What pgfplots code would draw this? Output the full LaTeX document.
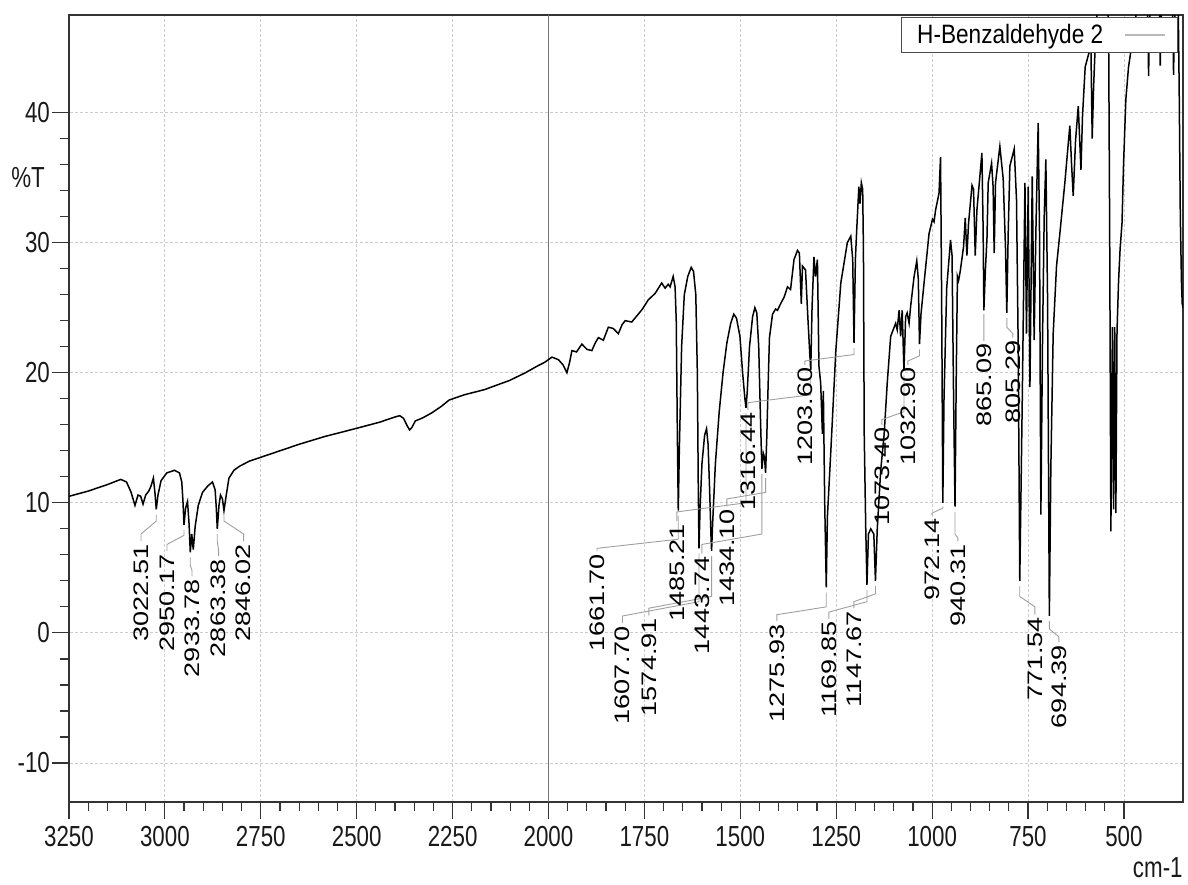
\documentclass[border=0pt]{standalone}
\usepackage{fontspec}
\setmainfont{Liberation Sans}
\newfontfamily\hfont{Liberation Sans}[FakeStretch=0.77]
\newfontfamily\lfont{Liberation Sans}[FakeStretch=0.85]
\newfontfamily\vfont{Liberation Sans}[FakeStretch=1.29]
\usepackage{pgfplots}
\pgfplotsset{compat=1.18}

\tikzset{
  plab/.style={rotate=90, anchor=east, inner sep=0pt, font=\vfont\fontsize{10.5}{12}\selectfont},
}
\pgfplotsset{leader/.style={forget plot, gray!75, line width=0.45pt}}

\begin{document}
\begin{tikzpicture}
\useasboundingbox (-34.5pt,-41pt) rectangle (559.5pt,401pt);
\begin{axis}[
    at={(0,0)}, anchor=south west,
    width=557pt, height=393.5pt, scale only axis,
    x dir=reverse,
    xmin=346, xmax=3250,
    ymin=-13, ymax=47.5,
    xtick={500,750,...,3250},
    ytick={-10,0,...,40},
    minor x tick num=4,
    minor y tick num=4,
    tick align=outside,
    xtick pos=bottom, ytick pos=left,
    major tick length=8.5pt, minor tick length=4.3pt,
    grid=major,
    major grid style={draw=gray!40, line width=0.4pt, dash pattern=on 1.5pt off 1pt},
    extra x ticks={2000}, extra x tick labels={},
    extra x tick style={major grid style={draw=black!55, solid, line width=0.6pt}},
    axis line style={black!80, line width=0.7pt},
    every tick/.style={black!80, line width=0.6pt},
    tick label style={font=\hfont\fontsize{14.5}{16}\selectfont, black!90},
    yticklabel style={xshift=2.5pt},
    /pgf/number format/assume math mode=true,
    /pgf/number format/1000 sep={},
    legend plot pos=right,
    legend cell align=left,
    legend style={at={(0.9955,0.997)}, anchor=north east, draw=black!70,
        line width=0.5pt, fill=white, inner xsep=6pt, inner ysep=1pt,
        font=\lfont\fontsize{13.3}{14}\selectfont},
]

% spectrum
\addplot[black, line width=0.75pt,
    legend image code/.code={\path (0cm,0cm); \draw[gray!55, line width=0.6pt] (0.3cm,0cm) -- (1.0cm,0cm);}]
coordinates {
(3250,10.5) (3200,10.9) (3150,11.4) (3115,11.8) (3100,11.6) (3088,10.8) (3078,9.8) (3070,10.6)
(3063,10.5) (3057,9.9) (3050,10.6) (3042,10.9) (3036,11.3) (3030,11.9) (3026,10.8) (3022.5,9.5)
(3018,10.6) (3010,11.7) (2995,12.3) (2975,12.5) (2962,12.3) (2956,11.6) (2953,10.2) (2950.2,8.3)
(2946,9.6) (2941,10.1) (2937,8.4) (2933.8,6.2) (2930,7.6) (2926,6.4) (2921,8.2) (2913,9.8)
(2902,10.8) (2888,11.3) (2876,11.6) (2869,11.0) (2866,9.6) (2863.4,8.0) (2859,9.8) (2855,10.6)
(2850,10.3) (2846,9.4) (2840,10.6) (2833,11.9) (2820,12.5) (2806,12.8) (2780,13.2) (2750,13.5)
(2700,14.0) (2650,14.5) (2583,15.1) (2530,15.5) (2491,15.8) (2440,16.2) (2400,16.6) (2388,16.7)
(2378,16.5) (2368,15.9) (2362,15.6) (2356,15.8) (2347,16.3) (2330,16.5) (2305,16.9) (2280,17.4)
(2259,17.9) (2220,18.3) (2167,18.7) (2130,19.1) (2102,19.4) (2060,20.0) (2030,20.5) (2010,20.8)
(1991,21.2) (1974,21.0) (1962,20.6) (1952,20.0) (1945,20.8) (1939,21.7) (1927,21.6) (1913,22.2)
(1900,21.8) (1887,21.7) (1878,22.3) (1870,22.7) (1857,22.5) (1844,23.5) (1831,23.4) (1818,23.0)
(1808,23.7) (1800,24.0) (1783,23.9) (1766,24.5) (1755,24.9) (1740,25.6) (1722,26.1) (1705,26.9)
(1696,26.5) (1688,26.8) (1683,26.6) (1675,27.4) (1670,26.6) (1667,24.0) (1664,15.0) (1661.7,9.4)
(1659,14.0) (1653,22.0) (1646,26.0) (1637,27.4) (1628,28.1) (1622,27.8) (1616,26.0) (1612,20.0)
(1609.5,11.0) (1607.7,6.5) (1605,9.5) (1600,13.0) (1593,15.2) (1588,15.7) (1584,14.5) (1580,11.0)
(1576.5,7.5) (1574.9,6.3) (1572,8.5) (1565,13.0) (1555,17.0) (1545,20.0) (1535,22.3) (1525,23.8)
(1517,24.5) (1510,24.2) (1501,22.8) (1494,20.0) (1488,18.0) (1485.2,17.3) (1482,18.5) (1476,22.0)
(1468,24.3) (1462,25.0) (1457,24.6) (1452,22.0) (1447,16.0) (1443.7,12.6) (1440,13.8) (1437,13.5)
(1434.1,12.3) (1431,15.0) (1428,18.5) (1424,22.7) (1416,24.5) (1408,24.9) (1403,24.8) (1395,25.3)
(1386,25.8) (1377,26.6) (1369,26.4) (1360,28.7) (1351,29.4) (1346,29.2) (1341,25.3) (1338,28.2)
(1330,27.9) (1324,24.3) (1319,21.5) (1316.4,20.2) (1313,25.0) (1308,28.9) (1304,27.4) (1299,28.7)
(1295,20.5) (1290.5,19.2) (1286,15.3) (1283.5,18.6) (1280,10.0) (1275.9,3.5) (1273,8.9) (1264,14.0)
(1251,21.7) (1238,26.9) (1221,30.0) (1212,30.5) (1207,28.7) (1203.6,22.3) (1200,28.7) (1197,30.7)
(1191,34.3) (1188,33.0) (1184.5,34.6) (1181,34.1) (1179,29.4) (1177,15.3) (1173,8.0) (1169.85,3.7)
(1166,7.6) (1160,8.0) (1152,7.6) (1147.7,4.0) (1143,8.0) (1134,12.5) (1125,15.3) (1117,19.2)
(1108,22.8) (1095,23.8) (1091,23.3) (1086,24.8) (1082,22.8) (1078,24.8) (1073.4,20.2) (1069,24.3)
(1065,24.6) (1060,23.8) (1056,25.1) (1047,27.4) (1040,28.6) (1036,27.2) (1032.9,22.2) (1029,24.5)
(1021,26.9) (1008,30.7) (999,31.8) (995,31.6) (991,32.5) (982,33.8) (978,36.6) (975,25.0)
(972.1,10.0) (969,18.0) (962,26.5) (952,30.2) (948,29.0) (944,18.0) (940.3,9.7) (937,20.0)
(934,27.4) (931,27.1) (926.7,27.8) (918,29.7) (913.6,31.9) (909.3,29.0) (905,31.5) (896,34.4)
(892,34.1) (887.6,29.0) (883.2,32.5) (870.2,36.9) (867,31.0) (865.1,24.8) (861,28.0) (857,30.3)
(853.8,34.6) (845,36.1) (841,34.3) (838.2,29.2) (834.7,34.6) (823.4,37.4) (814.7,34.9) (808.6,29.5)
(805.3,24.6) (801.7,30.7) (797.3,35.9) (786,37.2) (780,33.3) (775.6,22.0) (771.5,4.0) (765,17.9)
(758,34.6) (754,23.0) (749.5,34.3) (745,18.9) (739,35.1) (734,22.5) (729.6,30.7) (723.5,39.2)
(720,30.7) (716.5,9.1) (712,23.0) (707.8,32.0) (703.5,36.4) (699,25.6) (694.4,1.3) (690.5,12.7)
(684.4,23.0) (675.7,28.2) (667,30.7) (654,34.6) (641,39.0) (636.6,36.1) (632.2,33.6) (626,37.9)
(619,40.5) (612,35.6) (608,39.7) (601,43.5) (592,44.5) (586,45.0) (582.7,38.0) (579,42.0)
(575,45.0) (570,47.6) (562,49.5) (548,50.0) (540,47.0) (537,30.0) (534,7.8) (530,23.5)
(527,9.5) (524,23.5) (521,9.2) (518,23.2) (514,27.0) (510,29.5) (505,31.5) (501,36.0)
(495,41.0) (488,43.5) (478,45.5) (468,47.6) (455,49.5) (440,49.5) (437,46.0) (435.7,42.8)
(434,46.0) (430,49.5) (408,49.5) (406.5,46.0) (405.3,43.6) (404,46.0) (400,49.5) (374,49.5)
(372,46.0) (370.6,42.9) (369,46.0) (365,49.5) (359,49.5) (356,42.0) (353,32.0) (350,27.0)
(348,25.3) (346,25.0)
};
\addlegendentry{H-Benzaldehyde 2}

% leader lines: peak -> knee -> knee -> label top
\addplot[leader] coordinates {(3022.5,9.1) (3022.5,8.6) (3062.3,7.6) (3062.3,7.05)};
\addplot[leader] coordinates {(2950.2,7.9) (2950.2,7.5) (2994.6,6.8) (2994.6,6.3)};
\addplot[leader] coordinates {(2933.8,5.8) (2933.8,5.2) (2929.4,4.8) (2929.4,4.35)};
\addplot[leader] coordinates {(2863.4,7.6) (2863.4,7.0) (2860.0,6.4) (2860.0,5.9)};
\addplot[leader] coordinates {(2846.0,9.0) (2846.0,8.6) (2794.9,7.6) (2794.9,7.05)};
\addplot[leader] coordinates {(1661.7,9.0) (1661.7,7.2) (1873.7,6.5) (1873.7,6.3)};
\addplot[leader] coordinates {(1607.7,6.1) (1607.7,2.4) (1807.2,1.3) (1807.2,0.75)};
\addplot[leader] coordinates {(1574.9,5.9) (1574.9,2.8) (1738.2,1.9) (1738.2,1.35)};
\addplot[leader] coordinates {(1485.2,16.9) (1485.2,10.0) (1665.2,9.3) (1665.2,8.6)};
\addplot[leader] coordinates {(1443.7,12.2) (1443.7,7.6) (1600.0,6.8) (1600.0,6.1)};
\addplot[leader] coordinates {(1434.1,11.9) (1434.1,10.8) (1534.9,10.3) (1534.9,9.75)};
\addplot[leader] coordinates {(1316.4,19.8) (1316.4,18.3) (1480.1,17.7) (1480.1,17.15)};
\addplot[leader] coordinates {(1275.9,3.1) (1275.9,2.0) (1404.5,1.4) (1404.5,0.9)};
\addplot[leader] coordinates {(1203.6,21.9) (1203.6,21.4) (1331.5,20.9) (1331.5,20.6)};
\addplot[leader] coordinates {(1169.85,3.3) (1169.85,2.4) (1269.0,1.6) (1269.0,1.1)};
\addplot[leader] coordinates {(1147.7,3.6) (1147.7,3.0) (1203.8,2.4) (1203.8,1.9)};
\addplot[leader] coordinates {(1073.4,19.8) (1073.4,17.0) (1130.8,16.4) (1130.8,16.0)};
\addplot[leader] coordinates {(1032.9,21.8) (1032.9,21.3) (1063.1,20.9) (1063.1,20.6)};
\addplot[leader] coordinates {(972.1,9.7) (972.1,9.6) (1000.5,9.2) (1000.5,9.05)};
\addplot[leader] coordinates {(940.3,9.3) (940.3,7.6) (932.7,7.3) (932.7,7.05)};
\addplot[leader] coordinates {(865.1,24.5) (865.0,22.45)};
\addplot[leader] coordinates {(805.3,24.2) (805.3,23.5) (789.4,23.0) (789.4,22.7)};
\addplot[leader] coordinates {(771.5,3.6) (771.5,2.8) (732.0,2.0) (732.0,1.4)};
\addplot[leader] coordinates {(694.4,0.9) (694.4,0.3) (669.5,-0.3) (669.5,-0.7)};

% peak labels
\node[plab] at (axis cs:3062.3,6.86) {3022.51};
\node[plab] at (axis cs:2994.6,6.09) {2950.17};
\node[plab] at (axis cs:2929.4,4.16) {2933.78};
\node[plab] at (axis cs:2860.0,5.70) {2863.38};
\node[plab] at (axis cs:2794.9,6.86) {2846.02};
\node[plab] at (axis cs:1873.7,6.09) {1661.70};
\node[plab] at (axis cs:1807.2,0.54) {1607.70};
\node[plab] at (axis cs:1738.2,1.16) {1574.91};
\node[plab] at (axis cs:1665.2,8.40) {1485.21};
\node[plab] at (axis cs:1600.0,5.93) {1443.74};
\node[plab] at (axis cs:1534.9,9.56) {1434.10};
\node[plab] at (axis cs:1480.1,16.96) {1316.44};
\node[plab] at (axis cs:1404.5,0.69) {1275.93};
\node[plab] at (axis cs:1331.5,20.42) {1203.60};
\node[plab] at (axis cs:1269.0,0.92) {1169.85};
\node[plab] at (axis cs:1203.8,1.70) {1147.67};
\node[plab] at (axis cs:1130.8,15.80) {1073.40};
\node[plab] at (axis cs:1063.1,20.42) {1032.90};
\node[plab] at (axis cs:1000.5,8.86) {972.14};
\node[plab] at (axis cs:932.7,6.86) {940.31};
\node[plab] at (axis cs:865.0,22.27) {865.09};
\node[plab] at (axis cs:789.4,22.50) {805.29};
\node[plab] at (axis cs:732.0,1.23) {771.54};
\node[plab] at (axis cs:669.5,-0.92) {694.39};

\end{axis}
\node[font=\hfont\fontsize{14.5}{16}\selectfont, black!90] at (-20.5pt,312pt) {\%T};
\node[anchor=east, inner sep=0pt, font=\hfont\fontsize{14.5}{16}\selectfont, black!90] at (557pt,-33pt) {cm-1};
\end{tikzpicture}
\end{document}
